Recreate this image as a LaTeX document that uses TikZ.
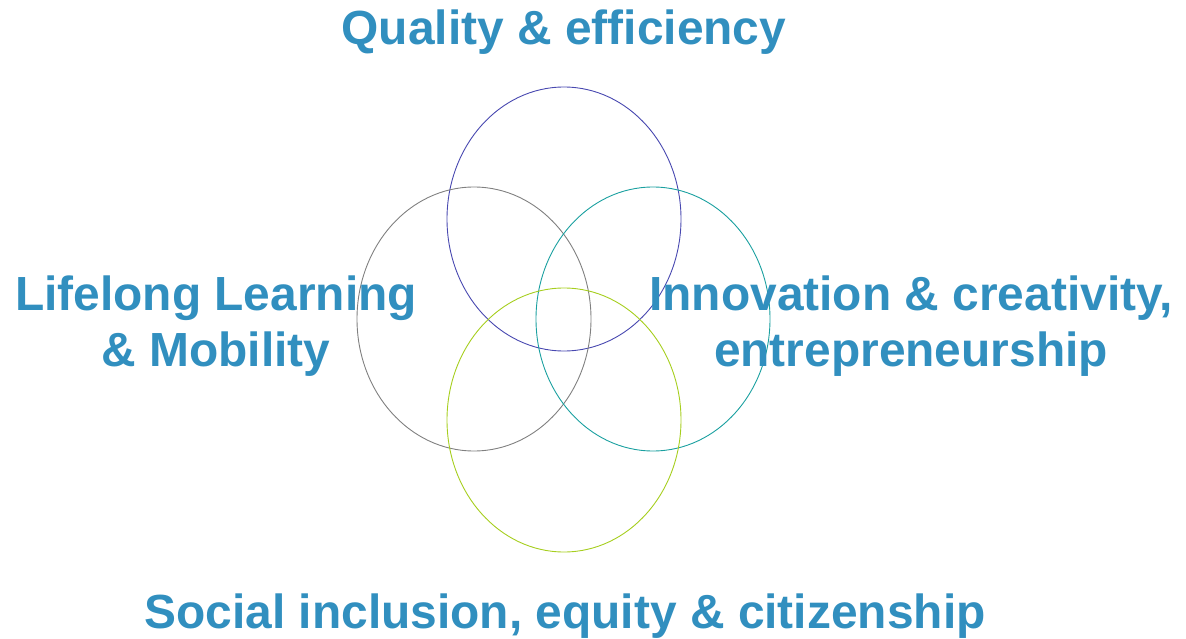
\documentclass[tikz,border=0pt]{standalone}
\usepackage{fontspec}
\setmainfont{Liberation Sans}
\definecolor{labelblue}{HTML}{318FBF}
\definecolor{topc}{HTML}{4848B0}
\definecolor{leftc}{HTML}{808080}
\definecolor{rightc}{HTML}{1AA0A0}
\definecolor{botc}{HTML}{A6CE1E}
\begin{document}
\begin{tikzpicture}[x=1pt,y=-1pt,
  ring/.style={line width=0.9pt},
  lbl/.style={text=labelblue,font=\fontsize{47.9}{57}\selectfont\bfseries,inner sep=0pt,anchor=base,align=center}]
\useasboundingbox (0,0) rectangle (1186,639);
\draw[ring,topc] (564,219) ellipse [x radius=117, y radius=132];
\draw[ring,leftc] (474,319) ellipse [x radius=117, y radius=132];
\draw[ring,rightc] (653,319) ellipse [x radius=117, y radius=132];
\draw[ring,botc] (564,420) ellipse [x radius=117, y radius=132];
\node[lbl] (q) at (564,45) {Quality \& efficiency};
\node[lbl] (l1) at (216,310) {Lifelong Learning};
\node[lbl] (l2) at (216,366) {\& Mobility};
\node[lbl] (r1) at (911,310) {Innovation \& creativity,};
\node[lbl] (r2) at (911,366) {entrepreneurship};
\node[lbl] (s) at (565,628) {Social inclusion, equity \& citizenship};
\end{tikzpicture}
\end{document}
